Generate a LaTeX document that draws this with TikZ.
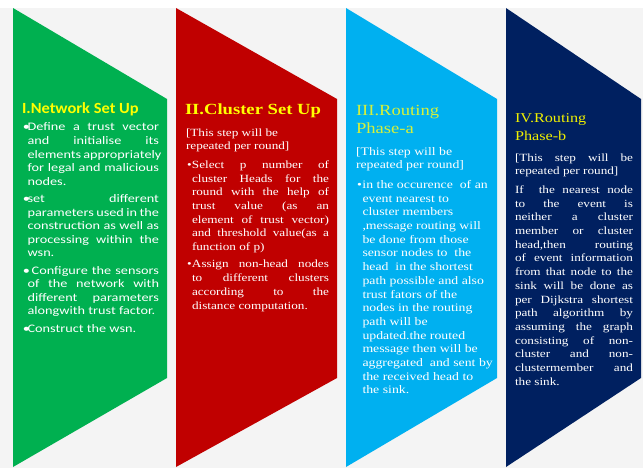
\documentclass[tikz,border=0pt]{standalone}
\usepackage{fontspec}
\setmainfont{Liberation Serif}
\newfontfamily\gfont[FakeStretch=1.24]{Carlito}
\newfontfamily\gtfont[FakeStretch=1.06]{Carlito}
\newfontfamily\sfont[FakeStretch=1.2]{Liberation Serif}
\definecolor{bgc}{HTML}{F4F4F4}
\definecolor{cgreen}{HTML}{00B050}
\definecolor{cred}{HTML}{C00000}
\definecolor{cblue}{HTML}{00B0F0}
\definecolor{cnavy}{HTML}{002060}
\definecolor{tyellow}{HTML}{FFFF00}
\definecolor{tlime}{HTML}{D6F03A}
\definecolor{tnavy}{HTML}{F0F000}
\newdimen\linew
\newdimen\bulw
\newcommand\jline[1]{\hbox to \linew{#1}}
\newcommand\nline[1]{\hbox{#1}}
\newcommand\bul{\hbox to \bulw{•\hss}}
\newcommand\ind{\hskip\bulw}
\newcommand\pgap{\vskip 3.6pt}
\begin{document}
\begin{tikzpicture}[x=1pt,y=-1pt,
  txt/.style={anchor=base west, inner sep=0pt, outer sep=0pt, text=white},
  ttl/.style={anchor=base west, inner sep=0pt, outer sep=0pt}]
\useasboundingbox (0,0) rectangle (643,468);
\fill[bgc] (0,0) rectangle (643,468);
\fill[white] (0,0) rectangle (643,8);
% panels
\fill[cgreen] (13,8) -- (167,99) -- (167,378) -- (13,467) -- cycle;
\fill[cred] (176,8) -- (337,99) -- (337,378) -- (176,467) -- cycle;
\fill[cblue] (346,8) -- (497,99) -- (497,378) -- (346,467) -- cycle;
\fill[cnavy] (506,8) -- (641,99) -- (641,378) -- (506,467) -- cycle;
% ---------- green ----------
\node[ttl, text=tyellow] (gT) at (22,113.5)
  {\gtfont\bfseries\fontsize{15.5}{18}\selectfont I.Network Set Up};
\node[txt] (gB) at (23,131) {\gfont\fontsize{11.5}{13.6}\selectfont
  \linew=136pt \bulw=4.6pt
  \vtop{\baselineskip=13.6pt\lineskiplimit=-20pt\lineskip=0pt
  \jline{\bul Define a trust vector}
  \jline{\ind and initialise its}
  \jline{\ind elements appropriately}
  \jline{\ind for legal and malicious}
  \nline{\ind nodes.}
  \pgap
  \jline{\bul set different}
  \jline{\ind parameters used in the}
  \jline{\ind construction as well as}
  \jline{\ind processing within the}
  \nline{\ind wsn.}
  \pgap
  \jline{\bul\ Configure the sensors}
  \jline{\ind of the network with}
  \jline{\ind different parameters}
  \nline{\ind alongwith trust factor.}
  \pgap
  \nline{\bul Construct the wsn.}}};
% ---------- red ----------
\node[ttl, text=tyellow] (rT) at (185,115)
  {\sfont\bfseries\fontsize{15.5}{18}\selectfont II.Cluster Set Up};
\node[txt] (rH) at (186,136.5) {\sfont\fontsize{11}{13.4}\selectfont
  \vtop{\baselineskip=13.4pt\lineskiplimit=-20pt\lineskip=0pt
  \nline{[This step will be}
  \nline{repeated per round]}}};
\node[txt] (rB) at (187,168.5) {\sfont\fontsize{11}{13.7}\selectfont
  \linew=142pt \bulw=5pt
  \vtop{\baselineskip=13.7pt\lineskiplimit=-20pt\lineskip=0pt
  \jline{\bul Select p number of}
  \jline{\ind cluster Heads for the}
  \jline{\ind round with the help of}
  \jline{\ind trust value (as an}
  \jline{\ind element of trust vector)}
  \jline{\ind and threshold value(as a}
  \nline{\ind function of p)}
  \pgap
  \jline{\bul Assign non-head nodes}
  \jline{\ind to different clusters}
  \jline{\ind according to the}
  \nline{\ind distance computation.}}};
% ---------- blue ----------
\node[ttl, text=tlime] (bT) at (356,116) {\sfont\fontsize{15.5}{18}\selectfont
  \vtop{\baselineskip=18pt\lineskiplimit=-20pt\lineskip=0pt
  \nline{III.Routing}
  \nline{Phase-a}}};
\node[txt] (bH) at (356,155.5) {\sfont\fontsize{11.5}{13.4}\selectfont
  \vtop{\baselineskip=13.4pt\lineskiplimit=-20pt\lineskip=0pt
  \nline{[This step will be}
  \nline{repeated per round]}}};
\node[txt] (bB) at (357,188.5) {\sfont\fontsize{11.5}{13.7}\selectfont
  \bulw=5.5pt
  \vtop{\baselineskip=13.7pt\lineskiplimit=-20pt\lineskip=0pt
  \nline{\bul in the occurence\ \ of an}
  \nline{\ind event nearest to}
  \nline{\ind cluster members}
  \nline{\ind ,message routing will}
  \nline{\ind be done from those}
  \nline{\ind sensor nodes to\ \ the}
  \nline{\ind head\ \ in the shortest}
  \nline{\ind path possible and also}
  \nline{\ind trust fators of the}
  \nline{\ind nodes in the routing}
  \nline{\ind path will be}
  \nline{\ind updated.the routed}
  \nline{\ind message then will be}
  \nline{\ind aggregated\ \ and sent by}
  \nline{\ind the received head to}
  \nline{\ind the sink.}}};
% ---------- navy ----------
\node[ttl, text=tnavy] (nT) at (515,123) {\sfont\fontsize{13.5}{18}\selectfont
  \vtop{\baselineskip=18pt\lineskiplimit=-20pt\lineskip=0pt
  \nline{IV.Routing}
  \nline{Phase-b}}};
\node[txt] (nH) at (515,161.5) {\sfont\fontsize{11}{13}\selectfont
  \linew=118pt
  \vtop{\baselineskip=13pt\lineskiplimit=-20pt\lineskip=0pt
  \jline{[This step will be}
  \nline{repeated per round]}}};
\node[txt] (nB) at (515,193.5) {\sfont\fontsize{11}{13.7}\selectfont
  \linew=118pt
  \vtop{\baselineskip=13.7pt\lineskiplimit=-20pt\lineskip=0pt
  \jline{If\ \ the nearest node}
  \jline{to the event is}
  \jline{neither a cluster}
  \jline{member or cluster}
  \jline{head,then routing}
  \jline{of event information}
  \jline{from that node to the}
  \jline{sink will be done as}
  \jline{per Dijkstra shortest}
  \jline{path algorithm by}
  \jline{assuming the graph}
  \jline{consisting of non-}
  \jline{cluster and non-}
  \jline{clustermember and}
  \nline{the sink.}}};
\end{tikzpicture}
\end{document}
